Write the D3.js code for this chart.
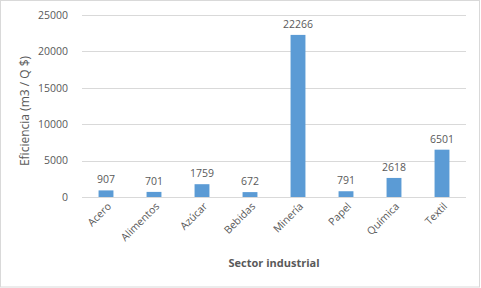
<!DOCTYPE html>
<html>
<head>
<meta charset="utf-8">
<script src="https://cdn.jsdelivr.net/npm/d3@7"></script>
<style>
  body { margin: 0; background: #fff; }
  text { font-family: "Open Sans", "Liberation Sans", sans-serif; fill: #595959; }
</style>
</head>
<body>
<div id="chart"></div>
<script>
// values
const sectors = ["Acero", "Alimentos", "Azúcar", "Bebidas", "Minería", "Papel", "Química", "Textil"];
const efficiency = [907, 701, 1759, 672, 22266, 791, 2618, 6501];
const yTicks = [0, 5000, 10000, 15000, 20000, 25000];

const W = 481, H = 288;
const margin = { top: 15, right: 15, bottom: 91, left: 82 };
const width = W - margin.left - margin.right;
const height = H - margin.top - margin.bottom;

const root = d3.select("#chart").append("svg")
  .attr("width", W)
  .attr("height", H);

// chart frame
root.append("rect")
  .attr("x", 0.5).attr("y", 0.5)
  .attr("width", W - 2).attr("height", H - 1.5)
  .attr("fill", "#fff")
  .attr("stroke", "#D9D9D9");

const svg = root.append("g")
  .attr("transform", `translate(${margin.left},${margin.top})`);

const x = d3.scaleBand()
  .domain(sectors)
  .range([0, width])
  .paddingInner(0.69)
  .paddingOuter(0.345);

const y = d3.scaleLinear()
  .domain([0, 25000])
  .range([height, 0]);

// gridlines
svg.append("g")
  .selectAll("line")
  .data(yTicks)
  .join("line")
  .attr("x1", 0)
  .attr("x2", width)
  .attr("y1", d => Math.round(y(d)) + 0.5)
  .attr("y2", d => Math.round(y(d)) + 0.5)
  .attr("stroke", "#D9D9D9")
  .attr("stroke-width", 1);

// y axis labels
const yAxis = d3.axisLeft(y).tickValues(yTicks).tickFormat(d3.format("d")).tickSize(0).tickPadding(14);
svg.append("g")
  .call(yAxis)
  .call(g => g.select(".domain").remove())
  .selectAll("text")
  .attr("font-size", "10.5px")
  .attr("font-family", "'Open Sans', sans-serif")
  .attr("fill", "#595959");

// bars
svg.append("g")
  .selectAll("rect")
  .data(efficiency)
  .join("rect")
  .attr("x", (d, i) => x(sectors[i]))
  .attr("width", x.bandwidth())
  .attr("y", d => y(d))
  .attr("height", d => height - y(d))
  .attr("fill", "#5B9BD5");

// data labels
svg.append("g")
  .selectAll("text")
  .data(efficiency)
  .join("text")
  .attr("x", (d, i) => x(sectors[i]) + x.bandwidth() / 2)
  .attr("y", d => y(d) - 7)
  .attr("text-anchor", "middle")
  .attr("font-size", "10.5px")
  .text(d => d);

// x axis category labels
const xAxis = d3.axisBottom(x).tickSize(0).tickPadding(0);
const gx = svg.append("g")
  .attr("transform", `translate(0,${height})`)
  .call(xAxis);
gx.select(".domain").remove();
gx.selectAll("text")
  .attr("font-size", "10.5px")
  .attr("font-family", "'Open Sans', sans-serif")
  .attr("fill", "#595959")
  .attr("text-anchor", "end")
  .attr("dy", null)
  .attr("y", 0)
  .attr("transform", "translate(6,10) rotate(-45)");

// axis titles
svg.append("text")
  .attr("x", width / 2)
  .attr("y", height + 70)
  .attr("text-anchor", "middle")
  .attr("font-size", "11px")
  .attr("font-weight", "bold")
  .text("Sector industrial");

svg.append("text")
  .attr("transform", `translate(${29 - margin.left},${height / 2 + 5}) rotate(-90)`)
  .attr("text-anchor", "middle")
  .attr("font-size", "12px")
  .text("Eficiencia (m3 / Q $)");
</script>
</body>
</html>
